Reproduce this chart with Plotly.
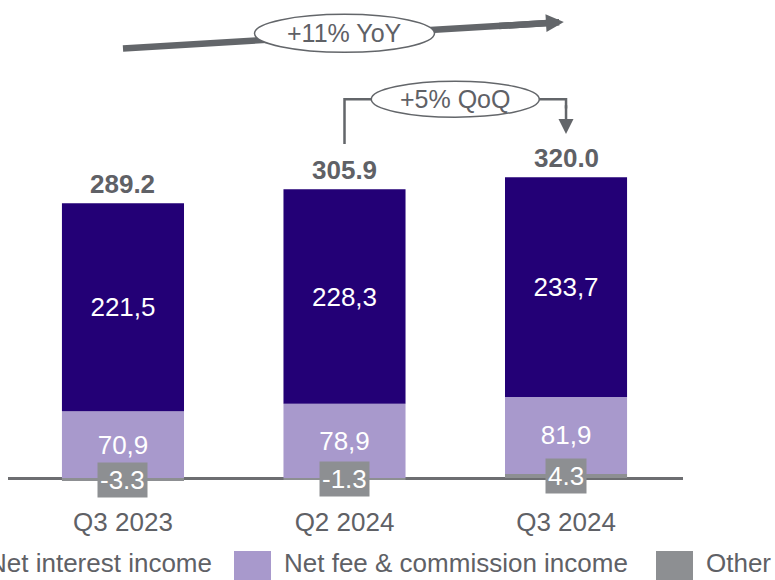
import plotly.graph_objects as go

# ---- data -------------------------------------------------------------
quarters = ["Q3 2023", "Q2 2024", "Q3 2024"]
net_interest_income = [221.5, 228.3, 233.7]
net_fee_commission = [70.9, 78.9, 81.9]
other_income = [-3.3, -1.3, 4.3]
total_income = [289.2, 305.9, 320.0]
series_names = ["Net interest income", "Net fee & commission income", "Other"]
yoy_label = "+11% YoY"
qoq_label = "+5% QoQ"

# ---- styling ----------------------------------------------------------
NII_COLOR = "#230076"
FEE_COLOR = "#a899cc"
OTHER_COLOR = "#8d8f92"
TEXT_GRAY = "#5f6166"
LINE_GRAY = "#63666a"
FONT = "Liberation Sans, Arial, sans-serif"
FS = 26

W, H = 775, 580
M_L, M_R, M_T, M_B = 8, 92, 0, 80
PLOT_W = W - M_L - M_R
PLOT_H = H - M_T - M_B

x = list(range(len(quarters)))


def comma(v):
    return f"{v:.1f}".replace(".", ",")


# top of the positive part of each stack
stack_top = [
    sum(v for v in (a, b, c) if v > 0)
    for a, b, c in zip(net_interest_income, net_fee_commission, other_income)
]

fig = go.Figure()
fig.add_bar(
    x=x, y=other_income, name=series_names[2], marker_color=OTHER_COLOR,
    marker_line_width=0, showlegend=False, hoverinfo="y",
)
fig.add_bar(
    x=x, y=net_fee_commission, name=series_names[1], marker_color=FEE_COLOR,
    marker_line_width=0, text=[comma(v) for v in net_fee_commission],
    textposition="inside", insidetextanchor="middle",
    textfont=dict(color="white", size=FS, family=FONT),
    showlegend=False, hoverinfo="y",
)
fig.add_bar(
    x=x, y=net_interest_income, name=series_names[0], marker_color=NII_COLOR,
    marker_line_width=0, text=[comma(v) for v in net_interest_income],
    textposition="inside", insidetextanchor="middle",
    textfont=dict(color="white", size=FS, family=FONT),
    showlegend=False, hoverinfo="y",
)

annotations = []
shapes = []

# boxed labels for the "Other" segment, centred on the segment
for xi, v in zip(x, other_income):
    annotations.append(dict(
        x=xi, y=v / 2, xref="x", yref="y", text=f"{v:.1f}", showarrow=False,
        font=dict(color="white", size=FS, family=FONT),
        bgcolor=OTHER_COLOR, borderpad=2, xanchor="center", yanchor="middle",
    ))

# bold totals above each stack
for xi, top, tot in zip(x, stack_top, total_income):
    annotations.append(dict(
        x=xi, y=top, xref="x", yref="y", text=f"<b>{tot:.1f}</b>",
        showarrow=False, yshift=19, yanchor="middle",
        font=dict(color=TEXT_GRAY, size=FS, family=FONT),
    ))

# ---- YoY arrow ----------------------------------------------------------
yoy_start = (0, 457)
yoy_tip = (1.99, 485)


def along(f):
    return (yoy_start[0] + f * (yoy_tip[0] - yoy_start[0]),
            yoy_start[1] + f * (yoy_tip[1] - yoy_start[1]))


line_end = along(0.975)
head_tail = along(0.85)
shapes.append(dict(
    type="line", xref="x", yref="y", x0=yoy_start[0], y0=yoy_start[1],
    x1=line_end[0], y1=line_end[1], line=dict(color=LINE_GRAY, width=6.5),
))
annotations.append(dict(
    x=yoy_tip[0], y=yoy_tip[1], ax=head_tail[0], ay=head_tail[1],
    xref="x", yref="y", axref="x", ayref="y", text="", showarrow=True,
    arrowhead=2, arrowwidth=6.5, arrowsize=0.55, arrowcolor=LINE_GRAY,
    standoff=0, startstandoff=0,
))
yoy_center = along(0.5)
yoy_center = (1, yoy_center[1] + 2)
shapes.append(dict(
    type="circle", xref="x", yref="y", xsizemode="pixel", ysizemode="pixel",
    xanchor=yoy_center[0], yanchor=yoy_center[1],
    x0=-90, x1=90, y0=-19, y1=19,
    fillcolor="white", line=dict(color=LINE_GRAY, width=1.5),
))
annotations.append(dict(
    x=yoy_center[0], y=yoy_center[1], xref="x", yref="y", text=yoy_label,
    showarrow=False, font=dict(color=TEXT_GRAY, size=25, family=FONT),
))

# ---- QoQ connector ------------------------------------------------------
qoq_start = stack_top[1] + 48
qoq_level = 403
qoq_tip = stack_top[2] + 46
shapes.append(dict(
    type="path", xref="x", yref="y",
    path=f"M 1,{qoq_start} L 1,{qoq_level} L 2,{qoq_level} L 2,{qoq_level - 10}",
    line=dict(color=LINE_GRAY, width=2.5),
))
annotations.append(dict(
    x=2, y=qoq_tip, ax=2, ay=qoq_level - 5, xref="x", yref="y",
    axref="x", ayref="y", text="", showarrow=True, arrowhead=2,
    arrowwidth=2.5, arrowsize=1.2, arrowcolor=LINE_GRAY, standoff=0,
))
shapes.append(dict(
    type="circle", xref="x", yref="y", xsizemode="pixel", ysizemode="pixel",
    xanchor=1.5, yanchor=qoq_level,
    x0=-84, x1=84, y0=-18, y1=18,
    fillcolor="white", line=dict(color=LINE_GRAY, width=1.5),
))
annotations.append(dict(
    x=1.5, y=qoq_level, xref="x", yref="y", text=qoq_label,
    showarrow=False, font=dict(color=TEXT_GRAY, size=25, family=FONT),
))

# ---- legend (drawn as swatches + labels below the axis) -----------------
def px_to_paper_x(px):
    return (px - M_L) / PLOT_W


def px_to_paper_y(py):
    return (M_T + PLOT_H - py) / PLOT_H


legend_items = [
    (series_names[0], NII_COLOR, -62),
    (series_names[1], FEE_COLOR, 234),
    (series_names[2], OTHER_COLOR, 656),
]
SW_W, SW_TOP, SW_BOT = 37, 551, 586
for name, color, left in legend_items:
    shapes.append(dict(
        type="rect", xref="paper", yref="paper",
        x0=px_to_paper_x(left), x1=px_to_paper_x(left + SW_W),
        y0=px_to_paper_y(SW_BOT), y1=px_to_paper_y(SW_TOP),
        fillcolor=color, line=dict(width=0),
    ))
    annotations.append(dict(
        x=px_to_paper_x(left + SW_W + 11), y=px_to_paper_y(580),
        xref="paper", yref="paper", text=name, showarrow=False,
        xanchor="left", yanchor="bottom",
        font=dict(color=TEXT_GRAY, size=FS, family=FONT),
    ))

fig.update_layout(
    width=W, height=H,
    margin=dict(l=M_L, r=M_R, t=M_T, b=M_B, pad=0),
    barmode="relative", bargap=0.449,
    plot_bgcolor="white", paper_bgcolor="white",
    font=dict(family=FONT, color=TEXT_GRAY, size=FS),
    showlegend=False,
    xaxis=dict(
        range=[-0.519, 2.528], tickvals=x, ticktext=quarters,
        showgrid=False, zeroline=False, showline=False, ticks="",
        tickfont=dict(size=FS, color=TEXT_GRAY, family=FONT),
        ticklabelstandoff=4, fixedrange=True,
    ),
    yaxis=dict(
        range=[-23.4, 508.5], showgrid=False, showticklabels=False,
        zeroline=True, zerolinecolor="#6d6e71", zerolinewidth=2.5,
        fixedrange=True,
    ),
    shapes=shapes,
    annotations=annotations,
)

fig.write_html("out.html", config={"displayModeBar": False})
